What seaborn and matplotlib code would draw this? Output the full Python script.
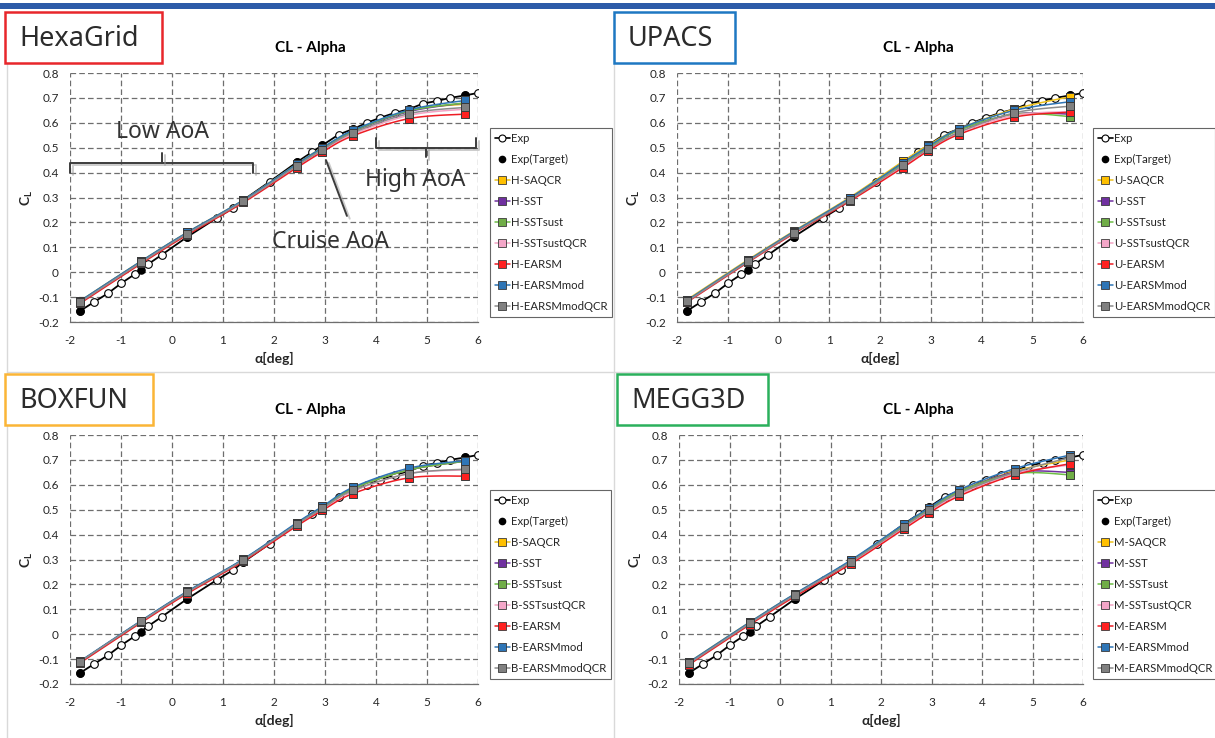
import numpy as np
import pandas as pd
import matplotlib
matplotlib.use('Agg')
import matplotlib.pyplot as plt
import seaborn as sns
from matplotlib.lines import Line2D
from matplotlib.patches import Rectangle
import matplotlib.patheffects as pe

# 实验数据
alpha_exp = [-1.8, -1.53, -1.25, -1.0, -0.73, -0.47, -0.2, 0.3, 0.88, 1.2, 1.4, 1.92, 2.45,
             2.75, 2.95, 3.27, 3.55, 3.82, 4.08, 4.37, 4.65, 4.92, 5.2, 5.45, 5.75, 6.0]
cl_exp = [-0.155, -0.12, -0.084, -0.045, -0.008, 0.032, 0.07, 0.142, 0.218, 0.258, 0.29, 0.364, 0.442,
          0.483, 0.51, 0.553, 0.575, 0.6, 0.62, 0.64, 0.655, 0.677, 0.688, 0.70, 0.71, 0.72]

alpha_cfd = [-1.8, -0.6, 0.3, 1.4, 2.45, 2.95, 3.55, 4.65, 5.75]
cl_target = [-0.155, 0.01, 0.142, 0.29, 0.442, 0.51, 0.575, 0.655, 0.71]

models = ['SAQCR', 'SST', 'SSTsust', 'SSTsustQCR', 'EARSM', 'EARSMmod', 'EARSMmodQCR']

hexa_cl = {
    'SAQCR':       [-0.115, 0.045, 0.160, 0.290, 0.435, 0.500, 0.565, 0.650, 0.675],
    'SST':         [-0.117, 0.043, 0.158, 0.288, 0.430, 0.495, 0.565, 0.645, 0.680],
    'SSTsust':     [-0.117, 0.043, 0.158, 0.288, 0.432, 0.497, 0.567, 0.648, 0.680],
    'SSTsustQCR':  [-0.120, 0.040, 0.155, 0.285, 0.425, 0.490, 0.555, 0.630, 0.655],
    'EARSM':       [-0.125, 0.035, 0.150, 0.280, 0.420, 0.483, 0.548, 0.617, 0.635],
    'EARSMmod':    [-0.115, 0.045, 0.160, 0.290, 0.435, 0.500, 0.570, 0.652, 0.690],
    'EARSMmodQCR': [-0.120, 0.040, 0.155, 0.285, 0.428, 0.492, 0.560, 0.637, 0.662],
}
upacs_cl = {
    'SAQCR':       [-0.110, 0.050, 0.165, 0.300, 0.445, 0.510, 0.575, 0.655, 0.705],
    'SST':         [-0.115, 0.045, 0.160, 0.295, 0.435, 0.500, 0.570, 0.635, 0.635],
    'SSTsust':     [-0.115, 0.045, 0.160, 0.295, 0.435, 0.500, 0.570, 0.635, 0.625],
    'SSTsustQCR':  [-0.120, 0.040, 0.155, 0.290, 0.425, 0.490, 0.560, 0.630, 0.645],
    'EARSM':       [-0.120, 0.040, 0.155, 0.285, 0.420, 0.487, 0.553, 0.623, 0.643],
    'EARSMmod':    [-0.113, 0.047, 0.163, 0.297, 0.440, 0.505, 0.575, 0.650, 0.685],
    'EARSMmodQCR': [-0.117, 0.043, 0.158, 0.290, 0.430, 0.495, 0.562, 0.640, 0.667],
}
boxfun_cl = {
    'SAQCR':       [-0.110, 0.053, 0.170, 0.300, 0.445, 0.510, 0.585, 0.660, 0.695],
    'SST':         [-0.110, 0.053, 0.170, 0.300, 0.445, 0.510, 0.585, 0.660, 0.695],
    'SSTsust':     [-0.110, 0.053, 0.170, 0.300, 0.445, 0.510, 0.585, 0.660, 0.695],
    'SSTsustQCR':  [-0.112, 0.050, 0.167, 0.297, 0.440, 0.503, 0.575, 0.645, 0.660],
    'EARSM':       [-0.115, 0.047, 0.163, 0.293, 0.435, 0.497, 0.565, 0.628, 0.635],
    'EARSMmod':    [-0.108, 0.055, 0.172, 0.302, 0.448, 0.513, 0.590, 0.667, 0.697],
    'EARSMmodQCR': [-0.110, 0.052, 0.168, 0.298, 0.442, 0.505, 0.578, 0.645, 0.663],
}
megg_cl = {
    'SAQCR':       [-0.112, 0.048, 0.162, 0.295, 0.440, 0.505, 0.575, 0.655, 0.700],
    'SST':         [-0.115, 0.045, 0.160, 0.292, 0.435, 0.500, 0.572, 0.650, 0.650],
    'SSTsust':     [-0.115, 0.045, 0.160, 0.292, 0.435, 0.500, 0.572, 0.645, 0.640],
    'SSTsustQCR':  [-0.118, 0.042, 0.157, 0.288, 0.428, 0.493, 0.562, 0.645, 0.680],
    'EARSM':       [-0.122, 0.038, 0.152, 0.282, 0.422, 0.487, 0.555, 0.640, 0.685],
    'EARSMmod':    [-0.112, 0.048, 0.163, 0.297, 0.442, 0.507, 0.580, 0.665, 0.720],
    'EARSMmodQCR': [-0.117, 0.043, 0.158, 0.290, 0.432, 0.497, 0.567, 0.650, 0.710],
}

line_colors = ['#EEC21A', '#7030A0', '#6DBE45', '#F3A3C4', '#EE1C24', '#2E75B6', '#8C8C8C']
fill_colors = ['#FFC000', '#7030A0', '#70AD47', '#F4A6C8', '#FF2020', '#2E75B6', '#808080']

W, H = 1215, 738


def fx(px):
    return px / W


def fy(py):
    return 1 - py / H


def smooth_curve(x, y, n=16):
    # Excel 风格平滑曲线 (Catmull-Rom)
    p = np.column_stack([x, y]).astype(float)
    ext = np.vstack([p[0], p, p[-1]])
    out = []
    for i in range(len(p) - 1):
        p0, p1, p2, p3 = ext[i], ext[i + 1], ext[i + 2], ext[i + 3]
        c1 = p1 + (p2 - p0) / 6
        c2 = p2 - (p3 - p1) / 6
        t = np.linspace(0, 1, n)[:, None]
        seg = (1 - t) ** 3 * p1 + 3 * (1 - t) ** 2 * t * c1 + 3 * (1 - t) * t ** 2 * c2 + t ** 3 * p2
        out.append(seg if i == 0 else seg[1:])
    s = np.vstack(out)
    return s[:, 0], s[:, 1]


sns.set_theme(style='white')
plt.rcParams['font.family'] = ['Lato', 'DejaVu Sans']
plt.rcParams['axes.unicode_minus'] = False
plt.rcParams['mathtext.fontset'] = 'custom'
plt.rcParams['mathtext.bf'] = 'Lato:bold'
plt.rcParams['mathtext.rm'] = 'Lato'

fig = plt.figure(figsize=(W / 100, H / 100), dpi=100)

# 顶部蓝色条与分隔线
fig.add_artist(Rectangle((0, fy(9)), 1, fy(3) - fy(9), transform=fig.transFigure,
                         facecolor='#2C5BA8', edgecolor='none'))
for x0, y0, x1, y1 in [(7, 30, 7, 738), (614, 30, 614, 738), (7, 372, 1215, 372)]:
    fig.add_artist(Line2D([fx(x0), fx(x1)], [fy(y0), fy(y1)], transform=fig.transFigure,
                          color='#D9D9D9', lw=1))

panels = [
    ('HexaGrid', 'H', hexa_cl, '#E8262B', (70, 73, 478, 322), (490, 128), (310, 48), (5, 12, 162, 63)),
    ('UPACS', 'U', upacs_cl, '#1E78C2', (677, 73, 1083, 322), (1093, 128), (918, 48), (614, 12, 735, 63)),
    ('BOXFUN', 'B', boxfun_cl, '#FBB536', (70, 435, 478, 684), (490, 490), (310, 410), (5, 374, 153, 425)),
    ('MEGG3D', 'M', megg_cl, '#2BB05C', (679, 435, 1083, 684), (1093, 490), (918, 410), (617, 374, 768, 425)),
]

yticks = [round(v, 1) for v in np.arange(-0.2, 0.81, 0.1)]

for name, prefix, data, box_c, (l, t, r, b), (lx, ly), (tx, ty), (bx0, by0, bx1, by1) in panels:
    ax = fig.add_axes([fx(l), fy(b), fx(r) - fx(l), fy(t) - fy(b)])
    ax.set_facecolor('white')

    # 实验曲线
    sns.lineplot(x=alpha_exp, y=cl_exp, ax=ax, color='black', lw=1.3, sort=False,
                 estimator=None, marker='o', markersize=5.5, markerfacecolor='white',
                 markeredgecolor='black', markeredgewidth=0.8, zorder=3)
    sns.scatterplot(x=alpha_cfd, y=cl_target, ax=ax, color='black', s=38, marker='o',
                    edgecolor='black', linewidth=0, zorder=4)

    # CFD 结果
    for i, m in enumerate(models):
        xs, ys = smooth_curve(alpha_cfd, data[m])
        sns.lineplot(x=xs, y=ys, ax=ax, color=line_colors[i], lw=1.1, sort=False,
                     estimator=None, zorder=5 + i)
        sns.scatterplot(x=alpha_cfd, y=data[m], ax=ax, marker='s', s=40, color=fill_colors[i],
                        edgecolor='#3A3A3A', linewidth=0.7, zorder=5 + i)

    ax.set_xlim(-2, 6)
    ax.set_ylim(-0.2, 0.8)
    ax.set_xticks(range(-2, 7))
    ax.set_yticks(yticks)
    ax.set_yticklabels(['0' if v == 0 else f'{v:.1f}' for v in yticks])
    ax.tick_params(length=0, labelsize=8.5, colors='#262626')
    ax.tick_params(axis='y', pad=8)
    ax.tick_params(axis='x', pad=9)
    ax.grid(True, color='#6E6E6E', ls=(0, (4.5, 2.5)), lw=0.9)
    for s in ['top', 'right', 'left']:
        ax.spines[s].set_visible(False)
    ax.spines['bottom'].set_color('#6E6E6E')
    ax.spines['bottom'].set_linewidth(0.9)
    ax.set_xlabel('α[deg]', fontsize=10, fontweight='bold', color='#262626')
    ax.set_ylabel(r'C$_\mathbf{L}$', fontsize=10, fontweight='bold', color='#262626')
    ax.xaxis.set_label_coords(0.5, -30 / (b - t))
    ax.yaxis.set_label_coords(-35 / (r - l), 0.5)

    fig.text(fx(tx), fy(ty), 'CL - Alpha', ha='center', va='center', fontsize=11,
             fontweight='bold', color='black')

    # 图例
    handles = [
        Line2D([0], [0], color='black', lw=1.2, marker='o', markersize=5, markerfacecolor='white',
               markeredgecolor='black', markeredgewidth=0.8),
        Line2D([0], [0], color='black', lw=0, marker='o', markersize=4.5),
    ]
    for i, m in enumerate(models):
        handles.append(Line2D([0], [0], color=line_colors[i], lw=1.1, marker='s', markersize=5.5,
                              markerfacecolor=fill_colors[i], markeredgecolor='#3A3A3A',
                              markeredgewidth=0.6))
    labels = ['Exp', 'Exp(Target)'] + [f'{prefix}-{m}' for m in models]
    leg = fig.legend(handles, labels, loc='upper left', bbox_to_anchor=(fx(lx), fy(ly)),
                     bbox_transform=fig.transFigure, fontsize=8.2, frameon=True, fancybox=False,
                     edgecolor='#404040', borderpad=0.42, labelspacing=0.88, handlelength=1.3,
                     handletextpad=0.12, borderaxespad=0)
    leg.get_frame().set_linewidth(0.8)

    # 标签框
    fig.add_artist(Rectangle((fx(bx0), fy(by1)), fx(bx1) - fx(bx0), fy(by0) - fy(by1),
                             transform=fig.transFigure, facecolor='white', edgecolor=box_c,
                             lw=1.8, zorder=10))
    fig.text(fx(bx0 + 14), fy((by0 + by1) / 2 + 1), name, ha='left', va='center', fontsize=19.5,
             family=['Noto Sans', 'DejaVu Sans'], color='#2B2B2B', zorder=11)

    if name == 'HexaGrid':
        shadow = [pe.SimpleLineShadow(offset=(2, -2), shadow_color='#9A9A9A', alpha=0.5), pe.Normal()]
        br_kw = dict(color='#3C3C3C', lw=1.4, clip_on=False, zorder=20, path_effects=shadow)
        # Low AoA 括号
        ax.plot([-2, -2, 1.59, 1.59], [0.40, 0.44, 0.44, 0.40], **br_kw)
        ax.plot([-0.2, -0.2], [0.44, 0.48], **br_kw)
        # High AoA 括号
        ax.plot([4.0, 4.0, 5.96, 5.96], [0.54, 0.50, 0.50, 0.54], **br_kw)
        ax.plot([4.98, 4.98], [0.50, 0.463], **br_kw)
        # Cruise AoA 指示线
        ax.plot([3.02, 3.43], [0.45, 0.226], **br_kw)
        tkw = dict(ha='center', va='center', fontsize=16.5, color='#333333',
                   family=['Noto Sans', 'DejaVu Sans'], zorder=21)
        ax.text(-0.18, 0.563, 'Low AoA', **tkw)
        ax.text(4.76, 0.37, 'High AoA', **tkw)
        ax.text(3.1, 0.12, 'Cruise AoA', **tkw)

fig.savefig('out.png', dpi=100)
